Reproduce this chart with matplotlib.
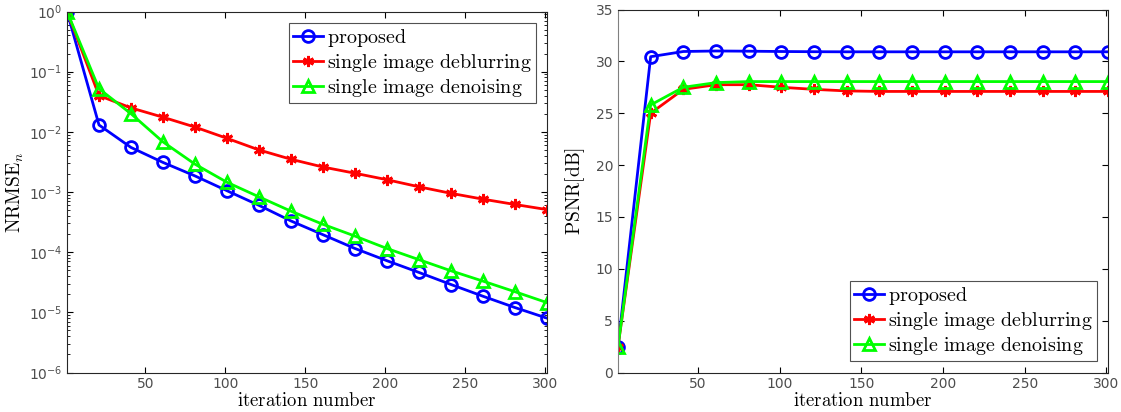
import numpy as np
import matplotlib
matplotlib.use("Agg")
import matplotlib.pyplot as plt

plt.rcParams['mathtext.fontset'] = 'cm'
plt.rcParams['font.family'] = ['DejaVu Sans']

iters = [1, 21, 41, 61, 81, 101, 121, 141, 161, 181, 201, 221, 241, 261, 281, 301]
labels = ['proposed', 'single image deblurring', 'single image denoising']

nrmse_proposed = [1.0, 1.3e-2, 5.5e-3, 3.1e-3, 1.85e-3, 1.05e-3, 6.0e-4, 3.3e-4,
                  1.95e-4, 1.15e-4, 7.2e-5, 4.6e-5, 2.9e-5, 1.85e-5, 1.2e-5, 8.0e-6]
nrmse_deblur = [1.0, 4.0e-2, 2.5e-2, 1.75e-2, 1.2e-2, 7.8e-3, 5.0e-3, 3.5e-3,
                2.6e-3, 2.05e-3, 1.6e-3, 1.22e-3, 9.5e-4, 7.6e-4, 6.2e-4, 5.1e-4]
nrmse_denoise = [1.0, 5.2e-2, 2.0e-2, 6.8e-3, 2.9e-3, 1.45e-3, 8.3e-4, 4.8e-4,
                 2.9e-4, 1.85e-4, 1.15e-4, 7.5e-5, 4.9e-5, 3.3e-5, 2.2e-5, 1.45e-5]

psnr_proposed = [2.5, 30.45, 30.95, 31.0, 30.98, 30.95, 30.93, 30.92,
                 30.92, 30.92, 30.92, 30.92, 30.92, 30.92, 30.92, 30.92]
psnr_deblur = [2.5, 25.0, 27.3, 27.75, 27.75, 27.5, 27.3, 27.15,
               27.1, 27.1, 27.1, 27.1, 27.1, 27.1, 27.1, 27.1]
psnr_denoise = [2.5, 25.8, 27.5, 27.95, 28.05, 28.05, 28.05, 28.05,
                28.05, 28.05, 28.05, 28.05, 28.05, 28.05, 28.05, 28.05]

styles = [
    dict(color=(0, 0, 1), marker='o', markersize=8.5, markerfacecolor='none'),
    dict(color=(1, 0, 0), marker=(6, 2, 0), markersize=8),
    dict(color=(0, 1, 0), marker='^', markersize=9, markerfacecolor='none'),
]

W, H = 1121, 412
fig = plt.figure(figsize=(W / 100, H / 100), dpi=100)
ax1 = fig.add_axes([67 / W, (H - 372.5) / H, (547 - 67) / W, (372.5 - 11.5) / H])
ax2 = fig.add_axes([618 / W, (H - 372.5) / H, (1108 - 618) / W, (372.5 - 9.5) / H])


def mlab(s):
    return r'$\mathrm{' + s.replace(' ', r'\ ') + '}$'


for ax, series in [(ax1, [nrmse_proposed, nrmse_deblur, nrmse_denoise]),
                   (ax2, [psnr_proposed, psnr_deblur, psnr_denoise])]:
    for ys, st, lab in zip(series, styles, labels):
        ax.plot(iters, ys, linewidth=2, markeredgewidth=2, label=mlab(lab), **st)
    ax.set_xlim(1, 301)
    ax.set_xticks([50, 100, 150, 200, 250, 300])
    ax.tick_params(which='both', direction='in', top=True, right=True,
                   labelsize=10, labelcolor='0.3', length=4)
    ax.set_xlabel(mlab('iteration number'), fontsize=13.5, labelpad=0)
    for sp in ax.spines.values():
        sp.set_linewidth(0.8)
        sp.set_color('0.15')

ax1.set_yscale('log')
ax1.set_ylim(1e-6, 1)
ax1.tick_params(which='minor', length=2)
ax1.set_ylabel(r'$\mathrm{NRMSE}_n$', fontsize=14, labelpad=2)
leg1 = ax1.legend(loc='upper right', fontsize=14.5, frameon=True, fancybox=False,
                  edgecolor='0.15', handlelength=1.5, borderpad=0.2,
                  labelspacing=0.15, handletextpad=0.2, borderaxespad=0.55)
leg1.get_frame().set_linewidth(0.8)

ax2.set_ylim(0, 35)
ax2.set_yticks([0, 5, 10, 15, 20, 25, 30, 35])
ax2.spines['left'].set_color('0.5')
ax2.set_ylabel(mlab('PSNR[dB]'), fontsize=14, labelpad=6)
leg2 = ax2.legend(loc='lower right', fontsize=14.5, frameon=True, fancybox=False,
                  edgecolor='0.15', handlelength=1.5, borderpad=0.2,
                  labelspacing=0.15, handletextpad=0.2, borderaxespad=0.55)
leg2.get_frame().set_linewidth(0.8)

fig.savefig('out.png', dpi=100)
